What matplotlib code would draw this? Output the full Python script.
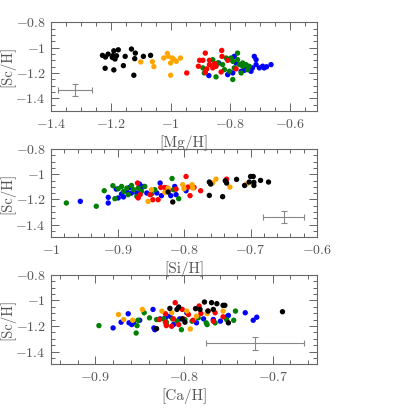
"""
[Sc/H] 对 [Mg/H]、[Si/H]、[Ca/H] 的三联散点图
"""

import matplotlib
matplotlib.use('Agg')
import matplotlib.pyplot as plt
from matplotlib.ticker import MultipleLocator, FuncFormatter

plt.rcParams['font.family'] = ['cmr10', 'DejaVu Serif']
plt.rcParams['mathtext.fontset'] = 'cm'
plt.rcParams['axes.unicode_minus'] = False

GREY_TEXT = '#555555'
GREY_FRAME = '#666666'
GREY_ERR = '#888888'

# ---- 面板 1: [Mg/H] ----
MG_BLACK = [-1.228, -1.218, -1.209, -1.195, -1.190, -1.181, -1.175, -1.193, -1.186, -1.152,
            -1.131, -1.118, -1.120, -1.091, -1.067, -1.219, -1.190, -1.158, -1.123]
SC_MG_BLACK = [-1.060, -1.073, -1.050, -1.076, -1.024, -1.063, -1.016, -1.062, -1.089, -1.068,
               -1.010, -1.042, -1.086, -1.068, -1.060, -1.162, -1.175, -1.141, -1.217]
MG_ORANGE = [-1.100, -1.061, -1.056, -1.023, -1.011, -1.008, -1.000, -0.994, -0.989, -0.981,
             -0.967, -1.000]
SC_MG_ORANGE = [-1.112, -1.110, -1.149, -1.081, -1.045, -1.068, -1.120, -1.081, -1.094, -1.107,
                -1.081, -1.217]
MG_RED = [-0.946, -0.884, -0.829, -0.903, -0.892, -0.907, -0.870, -0.870, -0.853, -0.848,
          -0.859, -0.828, -0.809, -0.884, -0.831, -0.781, -0.879]
SC_MG_RED = [-1.199, -1.042, -1.021, -1.099, -1.099, -1.146, -1.099, -1.133, -1.125, -1.146,
             -1.159, -1.068, -1.099, -1.194, -1.191, -1.167, -1.167]
MG_GREEN = [-0.859, -0.892, -0.887, -0.848, -0.842, -0.814, -0.798, -0.792, -0.776, -0.776,
            -0.770, -0.759, -0.759, -0.748, -0.742, -0.737, -0.764, -0.792, -0.803, -0.826,
            -0.787, -0.820]
SC_MG_GREEN = [-1.094, -1.159, -1.199, -1.230, -1.120, -1.081, -1.081, -1.107, -1.042, -1.094,
               -1.133, -1.120, -1.146, -1.133, -1.173, -1.146, -1.199, -1.251, -1.186, -1.133,
               -1.159, -1.173]
MG_BLUE = [-0.839, -0.872, -0.787, -0.792, -0.809, -0.753, -0.737, -0.720, -0.714, -0.714,
           -0.703, -0.692, -0.687, -0.731, -0.664, -0.764, -0.726, -0.679, -0.781, -0.747]
SC_MG_BLUE = [-1.120, -1.220, -1.068, -1.199, -1.212, -1.178, -1.173, -1.068, -1.094, -1.133,
              -1.159, -1.146, -1.159, -1.186, -1.133, -1.186, -1.159, -1.150, -1.120, -1.159]

# ---- 面板 2: [Si/H] ----
SI_BLACK = [-0.824, -0.817, -0.762, -0.760, -0.762, -0.742, -0.738, -0.736, -0.721, -0.709,
            -0.702, -0.700, -0.696, -0.695, -0.695, -0.685, -0.673]
SC_SI_BLACK = [-1.141, -1.220, -1.062, -1.078, -1.168, -1.178, -1.052, -1.070, -1.041, -1.089,
               -1.062, -1.018, -1.018, -1.065, -1.089, -1.049, -1.062]
SI_ORANGE = [-0.854, -0.849, -0.829, -0.824, -0.802, -0.800, -0.788, -0.787, -0.752, -0.731,
             -0.757, -0.706]
SC_SI_ORANGE = [-1.215, -1.123, -1.144, -1.110, -1.083, -1.115, -1.083, -1.110, -1.039, -1.102,
                -1.070, -1.078]
SI_RED = [-0.870, -0.866, -0.869, -0.851, -0.847, -0.839, -0.835, -0.829, -0.824, -0.812,
          -0.797, -0.794, -0.791, -0.785, -0.775, -0.736]
SC_SI_RED = [-1.070, -1.162, -1.188, -1.162, -1.202, -1.202, -1.105, -1.105, -1.123, -1.118,
             -1.018, -1.102, -1.170, -1.105, -1.131, -1.039]
SI_GREEN = [-0.977, -0.932, -0.920, -0.907, -0.904, -0.899, -0.894, -0.891, -0.886, -0.884,
            -0.879, -0.876, -0.871, -0.869, -0.864, -0.859, -0.849, -0.844, -0.818, -0.808,
            -0.816]
SC_SI_GREEN = [-1.228, -1.254, -1.131, -1.091, -1.194, -1.115, -1.097, -1.136, -1.110, -1.162,
               -1.089, -1.123, -1.175, -1.110, -1.136, -1.097, -1.157, -1.123, -1.034, -1.194,
               -1.123]
SI_BLUE = [-0.956, -0.914, -0.914, -0.902, -0.899, -0.894, -0.891, -0.886, -0.882, -0.879,
           -0.871, -0.867, -0.865, -0.861, -0.856, -0.841, -0.836, -0.834, -0.826, -0.820,
           -0.814, -0.812, -0.797]
SC_SI_BLUE = [-1.215, -1.183, -1.228, -1.118, -1.188, -1.157, -1.180, -1.136, -1.105, -1.149,
              -1.149, -1.078, -1.118, -1.097, -1.149, -1.149, -1.070, -1.170, -1.110, -1.170,
              -1.097, -1.162, -1.131]

# ---- 面板 3: [Ca/H] ----
CA_BLACK = [-0.831, -0.816, -0.808, -0.806, -0.802, -0.799, -0.787, -0.782, -0.777, -0.773,
            -0.769, -0.767, -0.763, -0.756, -0.754, -0.750, -0.689]
SC_CA_BLACK = [-1.221, -1.062, -1.070, -1.051, -1.144, -1.170, -1.064, -1.070, -1.012, -1.083,
               -1.017, -1.070, -1.025, -1.038, -1.038, -1.175, -1.088]
CA_ORANGE = [-0.874, -0.868, -0.858, -0.847, -0.825, -0.814, -0.797, -0.793, -0.786, -0.774,
             -0.756]
SC_CA_ORANGE = [-1.110, -1.149, -1.155, -1.070, -1.083, -1.096, -1.083, -1.223, -1.123, -1.102,
                -1.083]
CA_RED = [-0.828, -0.821, -0.820, -0.814, -0.810, -0.806, -0.801, -0.802, -0.795, -0.790,
          -0.783, -0.781, -0.773, -0.767, -0.765, -0.756, -0.821, -0.812]
SC_CA_RED = [-1.149, -1.104, -1.197, -1.202, -1.017, -1.189, -1.144, -1.070, -1.110, -1.155,
             -1.043, -1.102, -1.083, -1.162, -1.096, -1.128, -1.170, -1.144]
CA_GREEN = [-0.896, -0.854, -0.853, -0.852, -0.845, -0.839, -0.831, -0.823, -0.820, -0.813,
            -0.803, -0.799, -0.791, -0.784, -0.775, -0.774, -0.765, -0.752, -0.744, -0.742,
            -0.820, -0.808]
SC_CA_GREEN = [-1.197, -1.255, -1.197, -1.155, -1.096, -1.136, -1.149, -1.144, -1.170, -1.144,
               -1.229, -1.149, -1.162, -1.136, -1.175, -1.189, -1.175, -1.149, -1.155, -1.083,
               -1.189, -1.162]
CA_BLUE = [-0.880, -0.871, -0.863, -0.862, -0.859, -0.857, -0.850, -0.835, -0.834, -0.833,
           -0.827, -0.821, -0.816, -0.805, -0.797, -0.786, -0.778, -0.767, -0.759, -0.752,
           -0.750, -0.731, -0.722, -0.718, -0.812]
SC_CA_BLUE = [-1.215, -1.170, -1.104, -1.175, -1.189, -1.175, -1.155, -1.070, -1.215, -1.229,
              -1.144, -1.136, -1.123, -1.144, -1.096, -1.175, -1.144, -1.149, -1.162, -1.128,
              -1.117, -1.096, -1.155, -1.131, -1.189]

# 典型误差棒 (x, y, xerr, yerr)
ERR_MG = (-1.32, -1.335, 0.058, 0.048)
ERR_SI = (-0.65, -1.340, 0.031, 0.045)
ERR_CA = (-0.72, -1.337, 0.055, 0.050)


def fmt_tick(v, pos):
    return f'${v:g}$'


def draw_panel(ax, groups, err, xlim, xmajor, xminor, xlabel):
    # 透明背景, 避免盖住上一个面板的 x 标签
    ax.set_facecolor('none')

    # 绘制顺序: blue, green, red, orange, black
    for xs, ys, color in groups:
        ax.scatter(xs, ys, s=15, color=color, edgecolors='none', zorder=3)

    ex, ey, exerr, eyerr = err
    ax.errorbar([ex], [ey], xerr=[exerr], yerr=[eyerr], fmt='none', ecolor=GREY_ERR,
                elinewidth=0.8, capsize=2.5, capthick=0.8, zorder=2)

    ax.set_xlim(*xlim)
    ax.set_ylim(-1.5, -0.8)
    ax.xaxis.set_major_locator(MultipleLocator(xmajor))
    ax.xaxis.set_minor_locator(MultipleLocator(xminor))
    ax.yaxis.set_major_locator(MultipleLocator(0.2))
    ax.yaxis.set_minor_locator(MultipleLocator(0.05))
    ax.xaxis.set_major_formatter(FuncFormatter(fmt_tick))
    ax.yaxis.set_major_formatter(FuncFormatter(fmt_tick))

    ax.tick_params(which='both', direction='in', top=True, right=True,
                   colors=GREY_FRAME, labelcolor=GREY_TEXT, labelsize=10)
    ax.tick_params(which='major', length=6, width=0.7)
    ax.tick_params(which='minor', length=3, width=0.7)
    ax.tick_params(axis='x', which='major', pad=5)
    ax.tick_params(axis='y', which='major', pad=4)
    for sp in ax.spines.values():
        sp.set_color(GREY_FRAME)
        sp.set_linewidth(0.8)

    ax.set_xlabel(xlabel, fontsize=11, color=GREY_TEXT, labelpad=3)
    ax.set_ylabel('[Sc/H]', fontsize=10.5, color=GREY_TEXT)
    ax.yaxis.set_label_coords(-0.133, 0.5)


def main():
    fig = plt.figure(figsize=(4.15, 4.15), dpi=100)
    ax1 = fig.add_axes([0.123, 0.7325, 0.641, 0.2133])
    ax2 = fig.add_axes([0.123, 0.4282, 0.641, 0.2128])
    ax3 = fig.add_axes([0.123, 0.1222, 0.641, 0.2152])

    draw_panel(ax1,
               [(MG_BLUE, SC_MG_BLUE, 'blue'), (MG_GREEN, SC_MG_GREEN, 'green'),
                (MG_RED, SC_MG_RED, 'red'), (MG_ORANGE, SC_MG_ORANGE, 'orange'),
                (MG_BLACK, SC_MG_BLACK, 'black')],
               ERR_MG, (-1.4, -0.51), 0.2, 0.05, '[Mg/H]')
    draw_panel(ax2,
               [(SI_BLUE, SC_SI_BLUE, 'blue'), (SI_GREEN, SC_SI_GREEN, 'green'),
                (SI_RED, SC_SI_RED, 'red'), (SI_ORANGE, SC_SI_ORANGE, 'orange'),
                (SI_BLACK, SC_SI_BLACK, 'black')],
               ERR_SI, (-1.0, -0.6), 0.1, 0.02, '[Si/H]')
    draw_panel(ax3,
               [(CA_BLUE, SC_CA_BLUE, 'blue'), (CA_GREEN, SC_CA_GREEN, 'green'),
                (CA_RED, SC_CA_RED, 'red'), (CA_ORANGE, SC_CA_ORANGE, 'orange'),
                (CA_BLACK, SC_CA_BLACK, 'black')],
               ERR_CA, (-0.95, -0.65), 0.1, 0.02, '[Ca/H]')

    fig.savefig('out.png', dpi=100)
    plt.close(fig)


if __name__ == '__main__':
    main()
